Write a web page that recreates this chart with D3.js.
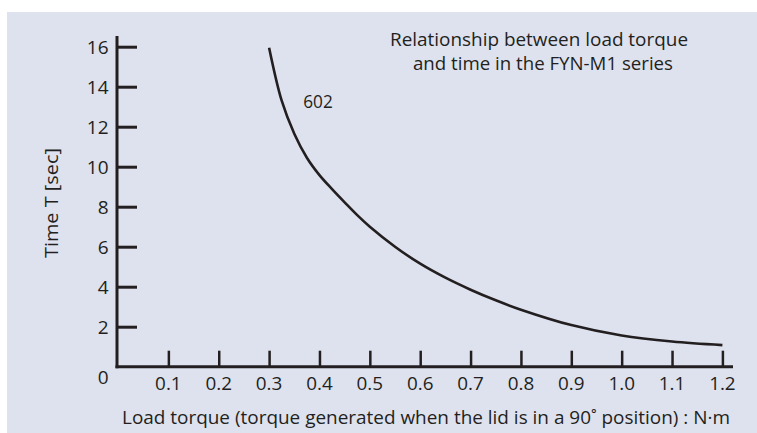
<!DOCTYPE html>
<html>
<head>
<meta charset="utf-8">
<script src="https://cdn.jsdelivr.net/npm/d3@7"></script>
<style>
  html, body { margin: 0; padding: 0; background: #ffffff; }
  svg { display: block; }
  text { font-family: "Open Sans", "Noto Sans", sans-serif; fill: #231f20; }
</style>
</head>
<body>
<svg id="chart" width="757" height="433"></svg>
<script>
// ---- data ----
const torque = [0.3, 0.325, 0.35, 0.375, 0.4, 0.425, 0.45, 0.475, 0.5, 0.55, 0.6, 0.65, 0.7, 0.75, 0.8, 0.9, 1.0, 1.1, 1.2];
const timeSec = [15.95, 13.3, 11.65, 10.45, 9.58, 8.88, 8.22, 7.58, 7.0, 6.0, 5.15, 4.45, 3.85, 3.32, 2.85, 2.08, 1.56, 1.26, 1.08];
const xTicks = [0.1, 0.2, 0.3, 0.4, 0.5, 0.6, 0.7, 0.8, 0.9, 1.0, 1.1, 1.2];
const xTickLabels = ["0.1", "0.2", "0.3", "0.4", "0.5", "0.6", "0.7", "0.8", "0.9", "1.0", "1.1", "1.2"];
const yTicks = [2, 4, 6, 8, 10, 12, 14, 16];
const seriesName = "602";
const titleLines = ["Relationship between load torque", "and time in the FYN-M1 series"];
const xLabel = "Load torque (torque generated when the lid is in a 90\u02DA position) : N\u00B7m";
const yLabel = "Time T [sec]";

// ---- layout ----
const svg = d3.select("#chart");
const ink = "#231f20";
const fs = 19;
svg.append("rect").attr("x", 7).attr("y", 12).attr("width", 750).attr("height", 421).attr("fill", "#dee2ee");

const x = d3.scaleLinear().domain([0, 1.2]).range([118, 722.4]);
const y = d3.scaleLinear().domain([0, 16]).range([366.7, 46.7]);

function fitTo(sel, target) {
  return sel.attr("font-size", fs).attr("textLength", target).attr("lengthAdjust", "spacingAndGlyphs");
}

// y axis
const yAxis = d3.axisRight(y).tickValues(yTicks).tickSize(20).tickFormat("");
const gy = svg.append("g").attr("transform", `translate(${x(0) - 1},0)`).call(yAxis);
gy.select(".domain").remove();
gy.selectAll(".tick line").attr("stroke", ink).attr("stroke-width", 3);
svg.append("line").attr("x1", x(0) - 1).attr("x2", x(0) - 1).attr("y1", 36).attr("y2", y(0) + 1.5)
  .attr("stroke", ink).attr("stroke-width", 3);

// y tick labels
svg.selectAll(".ylab").data(yTicks).join("text").attr("class", "ylab")
  .attr("text-anchor", "end").attr("x", 108.5).attr("y", d => y(d))
  .attr("dy", "0.36em").attr("font-size", fs).text(d => d);
svg.append("text").attr("text-anchor", "end").attr("x", 108.5).attr("y", y(0) + 10)
  .attr("dy", "0.36em").attr("font-size", fs).text("0");

// x axis
const xAxis = d3.axisTop(x).tickValues(xTicks).tickSize(16).tickFormat("");
const gx = svg.append("g").attr("transform", `translate(0,${y(0)})`).call(xAxis);
gx.select(".domain").remove();
gx.selectAll(".tick line").attr("stroke", ink).attr("stroke-width", 2.5);
svg.append("line").attr("x1", x(0) - 2.5).attr("x2", 733).attr("y1", y(0)).attr("y2", y(0))
  .attr("stroke", ink).attr("stroke-width", 3);

svg.selectAll(".xlab").data(xTicks).join("text").attr("class", "xlab")
  .attr("text-anchor", "middle").attr("x", d => x(d)).attr("y", y(0) + 16.5)
  .attr("dy", "0.36em").attr("font-size", fs).attr("textLength", 26.5)
  .attr("lengthAdjust", "spacingAndGlyphs").text((d, i) => xTickLabels[i]);

// axis titles
fitTo(svg.append("text").attr("text-anchor", "middle")
  .attr("x", 426).attr("y", 417).attr("dy", "0.36em").text(xLabel), 608);
fitTo(svg.append("text").attr("text-anchor", "middle")
  .attr("transform", "translate(51,203) rotate(-90)").attr("dy", "0.36em").text(yLabel), 110);

// curve
const line = d3.line().x(d => x(d[0])).y(d => y(d[1])).curve(d3.curveCatmullRom.alpha(0.5));
svg.append("path").datum(torque.map((t, i) => [t, timeSec[i]]))
  .attr("d", line).attr("fill", "none").attr("stroke", ink).attr("stroke-width", 2.6);

// series label
fitTo(svg.append("text").attr("text-anchor", "middle").attr("x", 318).attr("y", 100.7)
  .attr("dy", "0.36em").text(seriesName), 29.5);

// title
fitTo(svg.append("text").attr("text-anchor", "middle").attr("x", 539).attr("y", 39)
  .attr("dy", "0.36em").text(titleLines[0]), 298);
fitTo(svg.append("text").attr("text-anchor", "middle").attr("x", 543).attr("y", 63)
  .attr("dy", "0.36em").text(titleLines[1]), 260);
</script>
</body>
</html>
